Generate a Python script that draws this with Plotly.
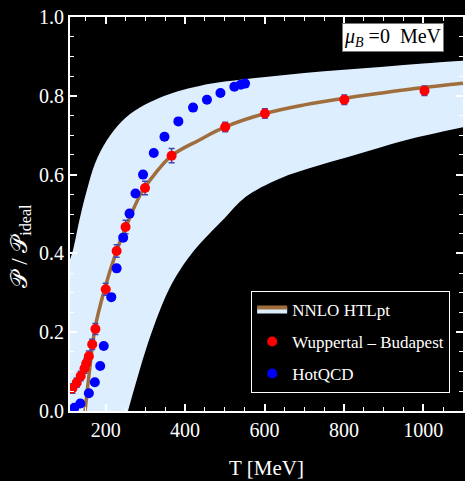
import plotly.graph_objects as go

# ---------------- data ----------------
band_T = [110, 117.5, 135, 152.5, 173, 202, 240, 286, 336, 380, 436, 500, 602, 700, 800, 900, 1000, 1100]
band_upper = [0.385, 0.408, 0.49, 0.56, 0.628, 0.686, 0.735, 0.770, 0.795, 0.811, 0.825, 0.836, 0.848, 0.858, 0.866, 0.874, 0.882, 0.889]
lower_T = [110, 180, 230, 256, 280, 305, 335, 361, 386, 423, 461, 500, 552, 636, 736, 836, 950, 1100]
band_lower = [-0.6, -0.28, -0.095, 0.0, 0.085, 0.168, 0.252, 0.312, 0.356, 0.408, 0.45, 0.49, 0.543, 0.589, 0.623, 0.652, 0.686, 0.72]

htl_T = [148, 160, 173, 196, 227, 250, 286, 311, 366, 436, 501, 601, 700, 801, 900, 1000, 1100]
htl_P = [0.0, 0.11, 0.21, 0.305, 0.405, 0.465, 0.547, 0.585, 0.648, 0.688, 0.721, 0.755, 0.777, 0.794, 0.808, 0.821, 0.832]

wb_T = [116, 127, 137, 146.5, 151, 157.5, 166, 174, 200, 227.5, 250, 299, 366, 501, 601, 801, 1003]
wb_P = [0.057, 0.072, 0.089, 0.108, 0.121, 0.139, 0.169, 0.208, 0.309, 0.406, 0.467, 0.566, 0.648, 0.721, 0.755, 0.790, 0.813]
wb_err = [0.012, 0.012, 0.012, 0.012, 0.012, 0.013, 0.013, 0.014, 0.015, 0.016, 0.017, 0.017, 0.018, 0.012, 0.012, 0.012, 0.012]

hot_T = [121, 136, 157.5, 172.5, 186, 195, 214, 227.5, 244, 260, 275, 294, 321, 348, 383, 420, 455, 489, 524, 540, 551]
hot_P = [0.008, 0.019, 0.045, 0.073, 0.114, 0.165, 0.289, 0.362, 0.440, 0.501, 0.552, 0.600, 0.655, 0.696, 0.735, 0.770, 0.790, 0.807, 0.823, 0.828, 0.831]
hot_err = [0.008, 0.008, 0.008, 0.008, 0.008, 0.008, 0.008, 0.008, 0.008, 0.008, 0.008, 0.008, 0.008, 0.008, 0.008, 0.008, 0.008, 0.008, 0.008, 0.008, 0.008]

x_ticks = [200, 400, 600, 800, 1000]
y_ticks = [0.0, 0.2, 0.4, 0.6, 0.8, 1.0]
y_ticklabels = ["0.0", "0.2", "0.4", "0.6", "0.8", "1.0"]

# ---------------- styles ----------------
FONT = "Liberation Serif, Times New Roman, serif"
BAND = "rgb(221,238,255)"
BROWN = "rgb(160,110,60)"
ERR = "rgb(70,70,170)"

fig = go.Figure()

fig.add_trace(go.Scatter(x=lower_T, y=band_lower, mode="lines", line=dict(width=0, shape="spline"),
                         showlegend=False, hoverinfo="skip"))
fig.add_trace(go.Scatter(x=band_T, y=band_upper, mode="lines", line=dict(width=0, shape="spline"),
                         fill="tonexty", fillcolor=BAND, showlegend=False, hoverinfo="skip"))
fig.add_trace(go.Scatter(x=htl_T, y=htl_P, mode="lines", line=dict(color=BROWN, width=3.5, shape="spline"),
                         showlegend=False))
# legend entry for band + line
fig.add_trace(go.Scatter(x=[None], y=[None], mode="lines", name="NNLO HTLpt",
                         line=dict(color=BROWN, width=4), fill="toself", fillcolor=BAND,
                         legendgroup="a"))

fig.add_trace(go.Scatter(x=wb_T, y=wb_P, mode="markers", name="Wuppertal – Budapest",
                         marker=dict(color="rgb(255,0,0)", size=10),
                         error_y=dict(type="data", array=wb_err, color=ERR, thickness=1.5, width=3),
                         legendgroup="b"))
fig.add_trace(go.Scatter(x=hot_T, y=hot_P, mode="markers", name="HotQCD",
                         marker=dict(color="rgb(0,0,255)", size=10),
                         error_y=dict(type="data", array=hot_err, color=ERR, thickness=1.5, width=3),
                         legendgroup="c"))

axis_common = dict(showgrid=False, zeroline=False, showline=True, linecolor="white", linewidth=2,
                   mirror="allticks", ticks="inside", tickcolor="white", tickwidth=1.5, ticklen=7,
                   tickfont=dict(family=FONT, size=20, color="white"))

fig.update_xaxes(range=[110, 1100], tickvals=x_ticks,
                 minor=dict(dtick=50, tick0=0, ticks="inside", ticklen=4, tickcolor="white", tickwidth=1.2),
                 title=dict(text="T [MeV]", font=dict(family=FONT, size=21, color="white"), standoff=20),
                 **axis_common)
fig.update_yaxes(range=[0, 1], tickvals=y_ticks, ticktext=y_ticklabels,
                 minor=dict(dtick=0.05, tick0=0, ticks="inside", ticklen=4, tickcolor="white", tickwidth=1.2),
                 **axis_common)

fig.add_annotation(text="𝒫 / 𝒫<sub>ideal</sub>", textangle=-90, xref="paper", yref="paper",
                   x=-0.127, y=0.42, xanchor="center", yanchor="middle", showarrow=False,
                   font=dict(family=FONT, size=23, color="white"))

fig.add_annotation(text="<i>μ<sub>B</sub></i> =0  MeV", xref="paper", yref="paper",
                   x=0.952, y=0.985, xanchor="right", yanchor="top", showarrow=False,
                   font=dict(family=FONT, size=20, color="black"),
                   bgcolor="white", bordercolor="rgb(120,120,120)", borderwidth=1, borderpad=1)

fig.update_layout(
    width=465, height=481,
    margin=dict(l=70, r=0, t=17, b=70),
    paper_bgcolor="black", plot_bgcolor="black",
    showlegend=True,
    legend=dict(x=0.461, y=0.305, xanchor="left", yanchor="top",
                bgcolor="black", bordercolor="white", borderwidth=1,
                font=dict(family=FONT, size=17, color="white"),
                traceorder="grouped", tracegroupgap=7, itemwidth=30),
)

fig.write_html("out.html", post_script="document.body.style.margin='0';",
               config={"displayModeBar": False})
